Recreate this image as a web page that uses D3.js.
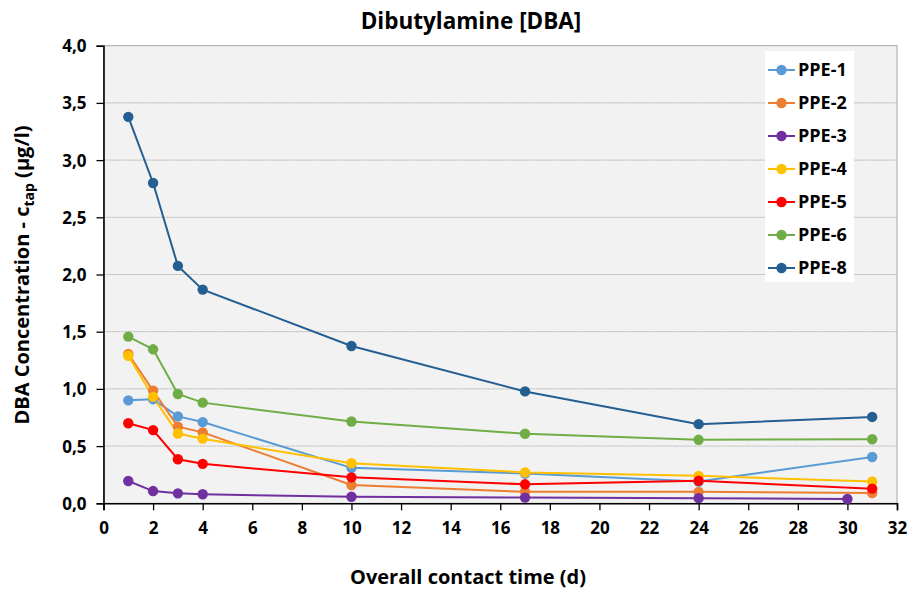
<!DOCTYPE html>
<html>
<head>
<meta charset="utf-8">
<script src="https://cdn.jsdelivr.net/npm/d3@7/dist/d3.min.js"></script>
<style>
  html, body { margin: 0; padding: 0; background: #ffffff; }
  svg { display: block; }
  text { font-family: "Open Sans", "DejaVu Sans Condensed", sans-serif; font-weight: bold; fill: #000; }
</style>
</head>
<body>
<svg id="chart" width="909" height="589"></svg>
<script>
// Contact time in days for each sampling point
const days = [1, 2, 3, 4, 10, 17, 24, 31];
const daysPPE3 = [1, 2, 3, 4, 10, 17, 24, 30];

// DBA concentration c_tap (µg/l) per material
const ppe1 = [0.90, 0.91, 0.76, 0.71, 0.31, 0.26, 0.19, 0.405];
const ppe2 = [1.305, 0.985, 0.67, 0.62, 0.16, 0.10, 0.10, 0.09];
const ppe3 = [0.195, 0.107, 0.087, 0.079, 0.057, 0.05, 0.045, 0.038];
const ppe4 = [1.29, 0.93, 0.61, 0.565, 0.35, 0.27, 0.24, 0.19];
const ppe5 = [0.70, 0.64, 0.385, 0.345, 0.227, 0.166, 0.197, 0.128];
const ppe6 = [1.457, 1.346, 0.955, 0.88, 0.715, 0.608, 0.555, 0.56];
const ppe8 = [3.378, 2.80, 2.075, 1.868, 1.375, 0.978, 0.692, 0.755];

const seriesNames = ["PPE-1", "PPE-2", "PPE-3", "PPE-4", "PPE-5", "PPE-6", "PPE-8"];
const seriesColors = ["#5B9BD5", "#ED7D31", "#7030A0", "#FFC000", "#FF0000", "#70AD47", "#255E91"];

const xTicks = d3.range(0, 33, 2);
const yTicks = d3.range(0, 4.01, 0.5);

const series = [
  { name: seriesNames[0], color: seriesColors[0], x: days, y: ppe1 },
  { name: seriesNames[1], color: seriesColors[1], x: days, y: ppe2 },
  { name: seriesNames[2], color: seriesColors[2], x: daysPPE3, y: ppe3 },
  { name: seriesNames[3], color: seriesColors[3], x: days, y: ppe4 },
  { name: seriesNames[4], color: seriesColors[4], x: days, y: ppe5 },
  { name: seriesNames[5], color: seriesColors[5], x: days, y: ppe6 },
  { name: seriesNames[6], color: seriesColors[6], x: days, y: ppe8 }
];

const svg = d3.select("#chart");
const m = { left: 103.5, right: 897, top: 45.7, bottom: 503.3 };

const x = d3.scaleLinear().domain([0, 32]).range([m.left, m.right]);
const y = d3.scaleLinear().domain([0, 4]).range([m.bottom, m.top]);

// Plot area background and frame
svg.append("rect")
  .attr("x", m.left).attr("y", m.top)
  .attr("width", m.right - m.left).attr("height", m.bottom - m.top)
  .attr("fill", "#f2f2f2").attr("stroke", "#a6a6a6").attr("stroke-width", 1);

// Horizontal grid lines
svg.append("g").selectAll("line")
  .data(yTicks.filter(v => v > 0 && v < 4))
  .join("line")
  .attr("x1", m.left).attr("x2", m.right)
  .attr("y1", d => y(d)).attr("y2", d => y(d))
  .attr("stroke", "#b3b3b3").attr("stroke-width", 1)
  .attr("stroke-dasharray", "2,1");

const fmt = d => d3.format(".1f")(d).replace(".", ",");

// Y axis
const yAxis = svg.append("g")
  .attr("transform", `translate(${m.left},0)`)
  .call(d3.axisLeft(y).tickValues(yTicks).tickFormat(fmt).tickSize(7).tickPadding(10));
yAxis.select(".domain").attr("stroke", "#000").attr("stroke-width", 1.6);
yAxis.selectAll(".tick line").attr("stroke", "#000").attr("stroke-width", 1.3);
yAxis.selectAll("text").style("font-size", "17px").attr("dy", "0.35em");

// X axis
const xAxis = svg.append("g")
  .attr("transform", `translate(0,${m.bottom})`)
  .call(d3.axisBottom(x).tickValues(xTicks).tickFormat(d3.format("d")).tickSize(7).tickPadding(12));
xAxis.select(".domain").attr("stroke", "#000").attr("stroke-width", 1.6);
xAxis.selectAll(".tick line").attr("stroke", "#000").attr("stroke-width", 1.3);
xAxis.selectAll("text").style("font-size", "17px");

// Series lines and markers
const line = d3.line().x(d => x(d[0])).y(d => y(d[1]));
const gSeries = svg.append("g");
series.forEach(s => {
  const pts = s.x.map((xv, i) => [xv, s.y[i]]);
  gSeries.append("path")
    .attr("d", line(pts))
    .attr("fill", "none")
    .attr("stroke", s.color)
    .attr("stroke-width", 2);
});
series.forEach(s => {
  const pts = s.x.map((xv, i) => [xv, s.y[i]]);
  gSeries.append("g").selectAll("circle")
    .data(pts)
    .join("circle")
    .attr("cx", d => x(d[0])).attr("cy", d => y(d[1]))
    .attr("r", 5.2)
    .attr("fill", s.color);
});

// Title
svg.append("text")
  .attr("x", 471).attr("y", 29)
  .attr("text-anchor", "middle")
  .style("font-size", "22.5px")
  .text("Dibutylamine [DBA]");

// Axis titles
svg.append("text")
  .attr("x", 468).attr("y", 584)
  .attr("text-anchor", "middle")
  .style("font-size", "20px")
  .text("Overall contact time (d)");

const yTitle = svg.append("text")
  .attr("transform", "translate(29,275) rotate(-90)")
  .attr("text-anchor", "middle")
  .style("font-size", "20px");
yTitle.append("tspan").text("DBA Concentration - c");
yTitle.append("tspan").attr("dy", 5).style("font-size", "14px").text("tap");
yTitle.append("tspan").attr("dy", -5).text(" (µg/l)");

// Legend
const lg = svg.append("g").attr("transform", "translate(765,51)");
lg.append("rect").attr("width", 89).attr("height", 231).attr("fill", "#ffffff");
series.forEach((s, i) => {
  const row = lg.append("g").attr("transform", `translate(0,${19 + i * 33})`);
  row.append("line").attr("x1", 3).attr("x2", 30).attr("stroke", s.color).attr("stroke-width", 2);
  row.append("circle").attr("cx", 16.5).attr("r", 5.2).attr("fill", s.color);
  row.append("text").attr("x", 33).attr("dy", "0.35em").style("font-size", "18px").text(s.name);
});
</script>
</body>
</html>
